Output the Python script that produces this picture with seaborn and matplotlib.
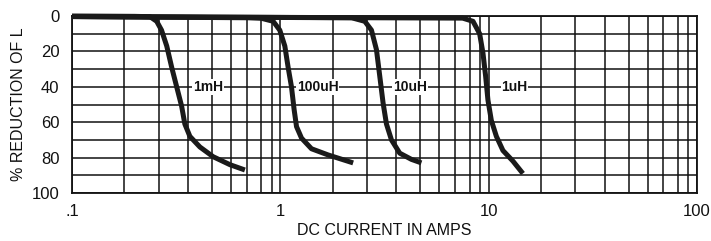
import numpy as np
import pandas as pd
import matplotlib
matplotlib.use("Agg")
import matplotlib.pyplot as plt
import seaborn as sns
from matplotlib.ticker import FixedLocator, NullFormatter

# ---- data ----
x_1mH = [0.1, 0.2, 0.237, 0.255, 0.269, 0.285, 0.301, 0.318, 0.336, 0.348,
         0.368, 0.411, 0.476, 0.573, 0.676]
y_1mH = [0, 0.2, 0.4, 3, 8, 17, 29, 40, 51, 61, 68, 74, 79.5, 84, 87]
x_100uH = [0.1, 0.7, 0.812, 0.924, 0.994, 1.051, 1.090, 1.131, 1.165, 1.196,
           1.264, 1.411, 1.696, 2.236]
y_100uH = [0.3, 1.0, 1.3, 3, 8, 17, 29, 40, 53, 62.5, 69, 75, 78.5, 83]
x_10uH = [0.1, 2.2, 2.543, 2.738, 2.893, 3.001, 3.112, 3.231, 3.415, 3.742,
          4.259, 4.755]
y_10uH = [0.3, 1.0, 3, 8, 19, 34, 49, 61, 70, 77.5, 81, 83]
x_1uH = [0.1, 7.5, 8.41, 9.05, 9.39, 9.67, 9.92, 10.30, 10.89, 11.71,
         13.08, 14.60]
y_1uH = [0.3, 1.2, 3, 10, 21, 34, 47.5, 59, 68, 76, 82, 89]

curve_names = ["1mH", "100uH", "10uH", "1uH"]
label_x = [0.449, 1.51, 4.18, 13.3]
label_y = [40, 40, 40, 40]

x_ticks = [0.1, 1, 10, 100]
x_ticklabels = [".1", "1", "10", "100"]
y_ticks = [0, 20, 40, 60, 80, 100]
minor_mult = [1.78, 2.61, 3.6, 4.7, 5.8, 6.9, 8.1, 9.1]
y_minor = [10, 30, 50, 70, 90]

frames = []
for name, xs, ys in zip(curve_names,
                        [x_1mH, x_100uH, x_10uH, x_1uH],
                        [y_1mH, y_100uH, y_10uH, y_1uH]):
    frames.append(pd.DataFrame({"current": xs, "reduction": ys, "curve": name}))
df = pd.concat(frames, ignore_index=True)

sns.set_style("white")
plt.rcParams["font.family"] = ["Liberation Sans", "DejaVu Sans"]

fig = plt.figure(figsize=(7.11, 2.41), dpi=100)
ax = fig.add_axes([72 / 711, 1 - 193 / 241, (697 - 72) / 711, (193 - 16) / 241])

ax.set_xscale("log")
ax.set_xlim(0.1, 100)
ax.set_ylim(100, 0)

# grid
minor_pos = [m * d for d in [0.1, 1, 10] for m in minor_mult]
ax.xaxis.set_major_locator(FixedLocator(x_ticks))
ax.xaxis.set_minor_locator(FixedLocator(minor_pos))
ax.xaxis.set_minor_formatter(NullFormatter())
ax.set_xticklabels(x_ticklabels)
ax.set_yticks(y_ticks)
ax.yaxis.set_minor_locator(FixedLocator(y_minor))
ax.grid(True, which="both", color="#111111", linewidth=1.1)
ax.set_axisbelow(True)
ax.tick_params(which="both", length=0)
ax.tick_params(axis="y", pad=9, labelsize=12, colors="#111111")
ax.tick_params(axis="x", pad=8, labelsize=12, colors="#111111")
for s in ax.spines.values():
    s.set_color("#111111")
    s.set_linewidth(1.3)

sns.lineplot(data=df, x="current", y="reduction", hue="curve",
             palette=["#1a1a1a"] * 4, estimator=None, sort=False,
             linewidth=3.6, legend=False, ax=ax, clip_on=False, zorder=3)
for line in ax.get_lines():
    line.set_solid_capstyle("butt")
    line.set_solid_joinstyle("round")

for name, lx, ly in zip(curve_names, label_x, label_y):
    ax.text(lx, ly, name, ha="center", va="center", fontsize=10,
            fontweight="bold", color="#111111", zorder=4,
            bbox=dict(facecolor="white", edgecolor="none", pad=0.6))

ax.set_xlabel("DC CURRENT IN AMPS", fontsize=11.5, color="#111111", labelpad=3)
ax.set_ylabel("% REDUCTION OF L", fontsize=11.5, color="#111111", labelpad=4)

fig.savefig("out.png", dpi=100)
